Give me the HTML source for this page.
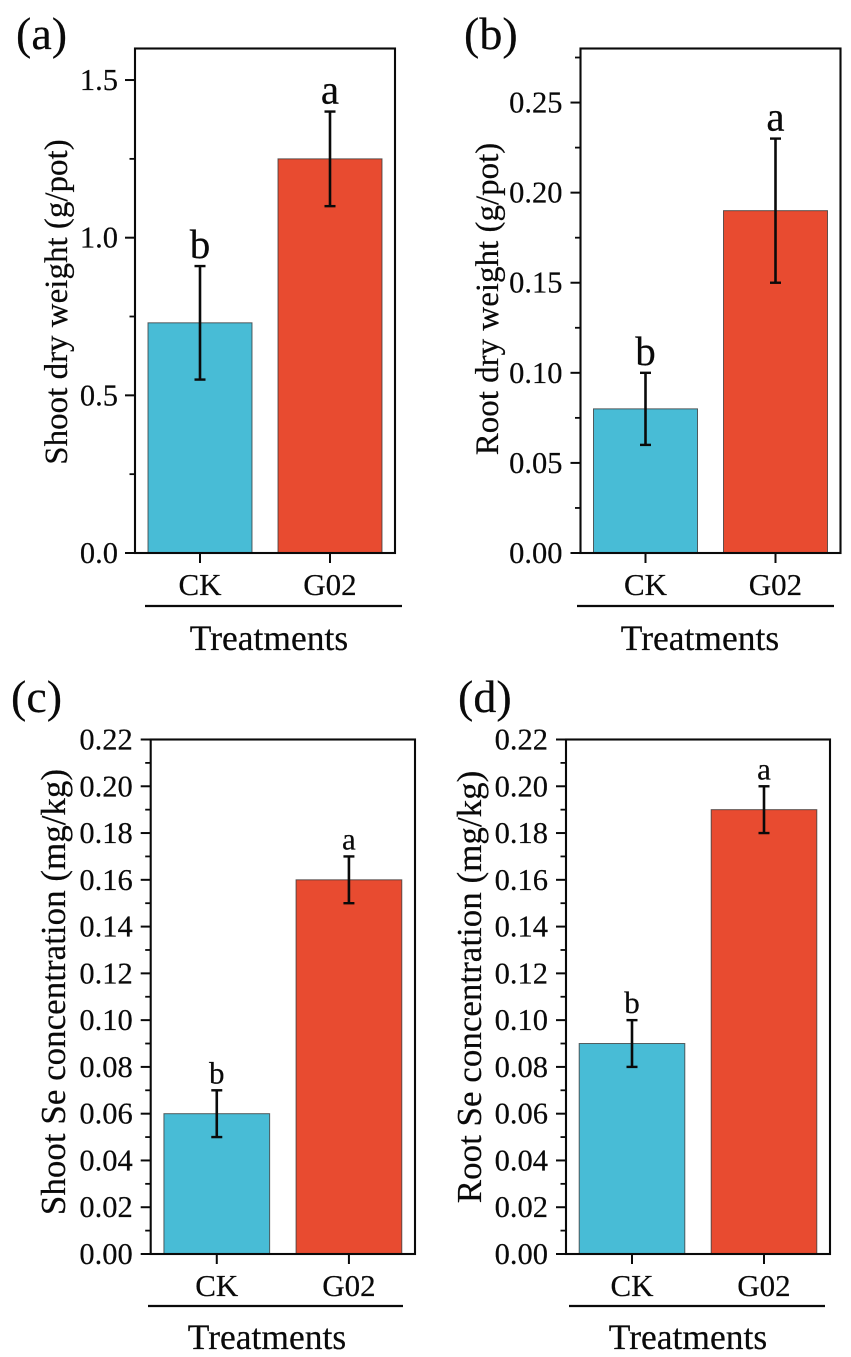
<!DOCTYPE html>
<html lang="en">
<head>
<meta charset="utf-8">
<title>Shoot and root dry weight and Se concentration</title>
<style>
html,body{margin:0;padding:0;background:#fff;}
svg{display:block;}
text{font-family:"Liberation Serif","Times New Roman",serif;fill:#0a0a0a;stroke:#0a0a0a;stroke-width:0.2px;}
</style>
</head>
<body>
<svg id="figure" xmlns="http://www.w3.org/2000/svg" width="851" height="1357" viewBox="0 0 851 1357">
  <rect x="0" y="0" width="851" height="1357" fill="#fff"/>

  <g id="panel-a">
    <text x="16" y="49" font-size="46">(a)</text>
    <text transform="translate(67,302) rotate(-90)" text-anchor="middle" font-size="33">Shoot dry weight (g/pot)</text>
    <text x="269" y="650" text-anchor="middle" font-size="35.5">Treatments</text>
    <line x1="145" x2="402" y1="606" y2="606" stroke="#0a0a0a" stroke-width="2.2"/>
  </g>

  <g id="panel-b">
    <text x="464" y="49" font-size="46">(b)</text>
    <text transform="translate(498,299) rotate(-90)" text-anchor="middle" font-size="33">Root dry weight (g/pot)</text>
    <text x="700" y="650" text-anchor="middle" font-size="35.5">Treatments</text>
    <line x1="577" x2="834" y1="606" y2="606" stroke="#0a0a0a" stroke-width="2.2"/>
  </g>

  <g id="panel-c">
    <text x="11" y="712" font-size="46">(c)</text>
    <text transform="translate(65,992) rotate(-90)" text-anchor="middle" font-size="35">Shoot Se concentration (mg/kg)</text>
    <text x="267" y="1349" text-anchor="middle" font-size="35.5">Treatments</text>
    <line x1="148" x2="403" y1="1306" y2="1306" stroke="#0a0a0a" stroke-width="2.2"/>
  </g>

  <g id="panel-d">
    <text x="458" y="712" font-size="46">(d)</text>
    <text transform="translate(481,987) rotate(-90)" text-anchor="middle" font-size="35">Root Se concentration (mg/kg)</text>
    <text x="688" y="1349" text-anchor="middle" font-size="35.5">Treatments</text>
    <line x1="569" x2="825" y1="1306" y2="1306" stroke="#0a0a0a" stroke-width="2.2"/>
  </g>
</svg>

<script>
// ---- chart data ----
const categories = ['CK', 'G02'];

const shootWeightMeans = [0.73, 1.25];
const shootWeightErrors = [0.18, 0.15];
const shootWeightLetters = ['b', 'a'];
const shootWeightTicks = ['0.0', '0.5', '1.0', '1.5'];
const shootWeightMax = 1.6;

const rootWeightMeans = [0.08, 0.19];
const rootWeightErrors = [0.02, 0.04];
const rootWeightLetters = ['b', 'a'];
const rootWeightTicks = ['0.00', '0.05', '0.10', '0.15', '0.20', '0.25'];
const rootWeightMax = 0.28;

const shootSeMeans = [0.06, 0.16];
const shootSeErrors = [0.01, 0.01];
const shootSeLetters = ['b', 'a'];
const shootSeTicks = ['0.00', '0.02', '0.04', '0.06', '0.08', '0.10', '0.12', '0.14', '0.16', '0.18', '0.20', '0.22'];
const shootSeMax = 0.22;

const rootSeMeans = [0.09, 0.19];
const rootSeErrors = [0.01, 0.01];
const rootSeLetters = ['b', 'a'];
const rootSeTicks = ['0.00', '0.02', '0.04', '0.06', '0.08', '0.10', '0.12', '0.14', '0.16', '0.18', '0.20', '0.22'];
const rootSeMax = 0.22;

const barColors = ['#48bcd6', '#e84b30'];
const SVGNS = 'http://www.w3.org/2000/svg';

function svgEl(tag, parent) {
  const el = document.createElementNS(SVGNS, tag);
  parent.appendChild(el);
  return el;
}

function drawLine(parent, name, x1, y1, x2, y2, width) {
  const el = svgEl('line', parent);
  
  
  el.setAttribute('x1', x1);
  el.setAttribute('y1', y1);
  el.setAttribute('x2', x2);
  el.setAttribute('y2', y2);
  el.setAttribute('stroke', '#0a0a0a');
  el.setAttribute('stroke-width', width);
  return el;
}

function drawText(parent, name, x, y, size, anchor, content) {
  const el = svgEl('text', parent);
  
  
  el.setAttribute('x', x);
  el.setAttribute('y', y);
  el.setAttribute('font-size', size);
  el.setAttribute('text-anchor', anchor);
  el.textContent = content;
  return el;
}

function drawPanel(id, frame, means, errors, letters, ticks, yMax, catY) {
  const g = document.getElementById(id);
  const yScale = function (v) {
    return frame.bottom - (v / yMax) * (frame.bottom - frame.top);
  };
  const plotW = frame.right - frame.left;
  const xCenter = function (i) {
    return frame.left + plotW * (0.25 + 0.5 * i);
  };
  const barW = plotW * 0.4;

  // bars
  categories.forEach(function (cat, i) {
    const top = yScale(means[i]);
    const bar = svgEl('rect', g);
    
    
    bar.setAttribute('x', xCenter(i) - barW / 2);
    bar.setAttribute('y', top);
    bar.setAttribute('width', barW);
    bar.setAttribute('height', frame.bottom - top);
    bar.setAttribute('fill', barColors[i]);
    bar.setAttribute('stroke', '#3a3a3a');
    bar.setAttribute('stroke-opacity', '0.8');
    bar.setAttribute('stroke-width', '1');
  });

  // frame
  const box = svgEl('rect', g);
  
  
  box.setAttribute('x', frame.left);
  box.setAttribute('y', frame.top);
  box.setAttribute('width', plotW);
  box.setAttribute('height', frame.bottom - frame.top);
  box.setAttribute('fill', 'none');
  box.setAttribute('stroke', '#0a0a0a');
  box.setAttribute('stroke-width', '2.1');

  // y ticks and labels
  const step = parseFloat(ticks[1]) - parseFloat(ticks[0]);
  ticks.forEach(function (label) {
    const v = parseFloat(label);
    const y = yScale(v);
    drawLine(g, id + '-y-tick-' + label, frame.left - 10, y, frame.left, y, 2);
    drawText(g, id + '-y-tick-label-' + label, frame.left - frame.labelGap, y + 10, 30.5, 'end', label);
    const minorV = v + step / 2;
    if (minorV < yMax) {
      drawLine(g, id + '-y-minor-tick-' + label, frame.left - 5.5, yScale(minorV), frame.left, yScale(minorV), 1.8);
    }
  });

  // categories, error bars, significance letters
  categories.forEach(function (cat, i) {
    const cx = xCenter(i);
    const key = cat.toLowerCase();
    drawLine(g, id + '-x-tick-' + key, cx, frame.bottom, cx, frame.bottom + 10, 2);
    drawText(g, id + '-x-tick-label-' + key, cx, catY, 31, 'middle', cat);

    const hi = yScale(means[i] + errors[i]);
    const lo = yScale(means[i] - errors[i]);
    drawLine(g, id + '-error-bar-' + key, cx, hi, cx, lo, 2.6);
    drawLine(g, id + '-error-cap-top-' + key, cx - 5.5, hi, cx + 5.5, hi, 2.4);
    drawLine(g, id + '-error-cap-bottom-' + key, cx - 5.5, lo, cx + 5.5, lo, 2.4);
    drawText(g, id + '-significance-letter-' + key, cx, hi - frame.letterGap, frame.letterSize, 'middle', letters[i]);
  });
}

drawPanel('panel-a', {left: 135, right: 395, top: 48.5, bottom: 553, labelGap: 17, letterGap: 8, letterSize: 41},
  shootWeightMeans, shootWeightErrors, shootWeightLetters, shootWeightTicks, shootWeightMax, 595);
drawPanel('panel-b', {left: 580.5, right: 840.5, top: 48.5, bottom: 553, labelGap: 18, letterGap: 8, letterSize: 41},
  rootWeightMeans, rootWeightErrors, rootWeightLetters, rootWeightTicks, rootWeightMax, 595);
drawPanel('panel-c', {left: 150.7, right: 415, top: 739.5, bottom: 1254, labelGap: 18, letterGap: 7, letterSize: 31},
  shootSeMeans, shootSeErrors, shootSeLetters, shootSeTicks, shootSeMax, 1296);
drawPanel('panel-d', {left: 566, right: 830, top: 739.5, bottom: 1254, labelGap: 18, letterGap: 7, letterSize: 31},
  rootSeMeans, rootSeErrors, rootSeLetters, rootSeTicks, rootSeMax, 1296);
</script>
</body>
</html>
